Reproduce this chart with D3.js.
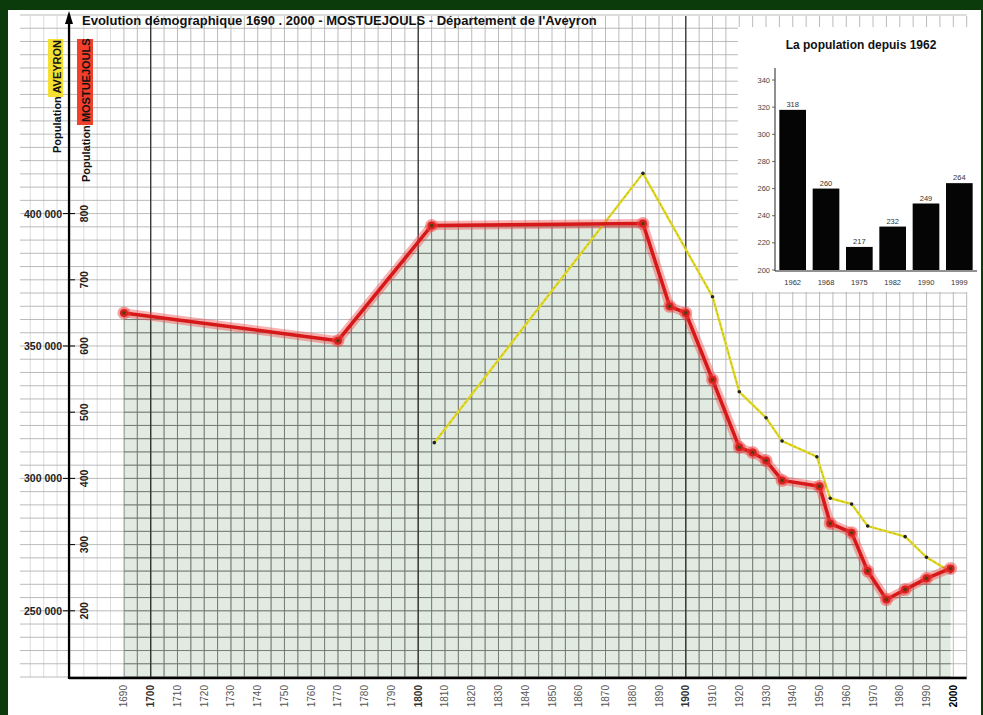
<!DOCTYPE html>
<html><head><meta charset="utf-8">
<script src="https://cdn.jsdelivr.net/npm/d3@7/dist/d3.min.js"></script>
<style>
html,body{margin:0;padding:0;background:#ffffff;}
svg{display:block;font-family:"Liberation Sans",Arial,sans-serif;}
</style></head>
<body>
<svg id="chart" width="983" height="715"></svg>
<script>
// ---- data ----
const titleText = "Evolution démographique 1690 . 2000 - MOSTUEJOULS - Département de l'Aveyron";
const mostYears = [1690, 1770, 1805, 1884, 1894, 1900, 1910, 1920, 1925, 1930, 1936, 1950, 1954, 1962, 1968, 1975, 1982, 1990, 1999];
const mostPop   = [650, 608, 782, 785, 660, 650, 549, 447, 439, 427, 397, 388, 332, 318, 260, 217, 232, 249, 264];
const avYears = [1806, 1884, 1910, 1920, 1930, 1936, 1949, 1954, 1962, 1968, 1982, 1990, 1999];
const avPop   = [313500, 415200, 368600, 332700, 322900, 314100, 308200, 292500, 290300, 282000, 278000, 270200, 264700];
const xTickYears = [1690,1700,1710,1720,1730,1740,1750,1760,1770,1780,1790,1800,1810,1820,1830,1840,1850,1860,1870,1880,1890,1900,1910,1920,1930,1940,1950,1960,1970,1980,1990,2000];
const avTicks = [250000, 300000, 350000, 400000];
const mostTicks = [200, 300, 400, 500, 600, 700, 800];
const insetYears = ["1962","1968","1975","1982","1990","1999"];
const insetPop = [318, 260, 217, 232, 249, 264];
const insetTicks = [200,220,240,260,280,300,320,340];

const svg = d3.select("#chart");
// frame
svg.append("rect").attr("x",0).attr("y",0).attr("width",983).attr("height",715).attr("fill","#0b3b0b");
svg.append("rect").attr("x",8).attr("y",10).attr("width",973).attr("height",720).attr("fill","#ffffff");

const x = d3.scaleLinear().domain([1700, 2000]).range([150.7, 953.3]);
const y = d3.scaleLinear().domain([100, 1100]).range([677, 15]);
const yA = d3.scaleLinear().domain([225000, 475000]).range([677, 15]);

const pts = mostYears.map((d,i)=>[d, mostPop[i]]);
const areaGen = d3.area().x(d=>x(d[0])).y0(y(100)).y1(d=>y(d[1]));

// clip for the filled area
svg.append("clipPath").attr("id","fillclip").append("path").datum(pts).attr("d", areaGen);

// fill under red line
svg.append("path").datum(pts).attr("d", areaGen).attr("fill","#e2ebe2");

// grid (light, everywhere)
const gx = d3.range(1655, 2006, 5);
const gy = d3.range(100, 1101, 20);
function drawGrid(g, col, w, leftOpacity){
  g.selectAll("line.v").data(gx).join("line").attr("class","v")
    .attr("x1",d=>x(d)).attr("x2",d=>x(d)).attr("y1",16).attr("y2",y(100))
    .attr("stroke",col).attr("stroke-width",w)
    .attr("opacity", d=> d<1690 ? leftOpacity : 1);
  g.selectAll("line.h").data(gy).join("line").attr("class","h")
    .attr("x1",20).attr("x2",x(2005)).attr("y1",d=>y(d)).attr("y2",d=>y(d))
    .attr("stroke",col).attr("stroke-width",w);
}
drawGrid(svg.append("g"), "#a9a9a9", 0.8, 0.5);
drawGrid(svg.append("g").attr("clip-path","url(#fillclip)"), "#6f756f", 0.9, 1);
// major century lines
svg.selectAll("line.maj").data([1700,1800,1900]).join("line")
  .attr("x1",d=>x(d)).attr("x2",d=>x(d)).attr("y1",16).attr("y2",y(100))
  .attr("stroke","#333").attr("stroke-width",1.3);

// inset white box
svg.append("rect").attr("x",738).attr("y",27).attr("width",243).attr("height",265).attr("fill","#fff");

// title
svg.append("text").attr("x",82).attr("y",25).attr("font-size",13).attr("font-weight","bold")
  .attr("fill","#111").text(titleText);

// axes
svg.append("line").attr("x1",69).attr("x2",x(2005)).attr("y1",678).attr("y2",678)
  .attr("stroke","#000").attr("stroke-width",2.5);
svg.append("line").attr("x1",69).attr("x2",69).attr("y1",20).attr("y2",679)
  .attr("stroke","#000").attr("stroke-width",2.2);
svg.append("path").attr("d","M69,11 L65,24 L73,24 Z").attr("fill","#000");

// x tick labels
const xl = svg.append("g");
xTickYears.forEach(yr=>{
  const major = (yr%100===0);
  xl.append("text")
    .attr("transform",`translate(${x(yr)+3.5},685) rotate(-90)`)
    .attr("text-anchor","end")
    .attr("font-size",10)
    .attr("font-weight", major ? "bold" : "normal")
    .attr("fill", yr===2000 ? "#000" : (major ? "#333" : "#555"))
    .text(yr);
});

// left labels (Aveyron)
avTicks.forEach(v=>{
  svg.append("text").attr("x",62).attr("y",yA(v)+4).attr("text-anchor","end")
    .attr("font-size",10.5).attr("font-weight","bold").attr("fill","#222")
    .text(d3.format(",")(v).replace(/,/g," "));
  svg.append("line").attr("x1",63).attr("x2",69).attr("y1",yA(v)).attr("y2",yA(v)).attr("stroke","#000").attr("stroke-width",1);
});
mostTicks.forEach(v=>{
  svg.append("text").attr("transform",`translate(88,${y(v)}) rotate(-90)`).attr("text-anchor","middle")
    .attr("font-size",10.5).attr("font-weight","bold").attr("fill","#222").text(v);
  svg.append("line").attr("x1",69).attr("x2",75).attr("y1",y(v)).attr("y2",y(v)).attr("stroke","#000").attr("stroke-width",1);
});

// rotated legend labels
svg.append("rect").attr("x",48).attr("y",39).attr("width",15).attr("height",58).attr("fill","#f3e033");
svg.append("text").attr("transform","translate(61,153) rotate(-90)").attr("font-size",11).attr("font-weight","bold").attr("fill","#111")
  .text("Population AVEYRON");
svg.append("rect").attr("x",77).attr("y",39).attr("width",16).attr("height",86).attr("fill","#f0402c");
svg.append("text").attr("transform","translate(90,182) rotate(-90)").attr("font-size",11).attr("font-weight","bold").attr("fill","#111")
  .text("Population MOSTUEJOULS");

// yellow Aveyron line
const avPts = avYears.map((d,i)=>[d, avPop[i]]);
const lineA = d3.line().x(d=>x(d[0])).y(d=>yA(d[1]));
svg.append("path").datum(avPts).attr("d", lineA)
  .attr("fill","none").attr("stroke","#e2d923").attr("stroke-width",2.4);
svg.append("path").datum(avPts).attr("d", lineA)
  .attr("fill","none").attr("stroke","#6b6a20").attr("stroke-width",0.6).attr("stroke-dasharray","2,3").attr("opacity",0.6);
svg.selectAll("circle.av").data(avPts).join("circle")
  .attr("cx",d=>x(d[0])).attr("cy",d=>yA(d[1])).attr("r",1.8).attr("fill","#222");

// red Mostuejouls line
const lineM = d3.line().x(d=>x(d[0])).y(d=>y(d[1]));
svg.append("path").datum(pts).attr("d",lineM).attr("fill","none")
  .attr("stroke","#f05050").attr("stroke-opacity",0.45).attr("stroke-width",9).attr("stroke-linejoin","round");
svg.append("path").datum(pts).attr("d",lineM).attr("fill","none")
  .attr("stroke","#d61818").attr("stroke-width",3.5).attr("stroke-linejoin","round");
svg.selectAll("circle.mg").data(pts).join("circle")
  .attr("cx",d=>x(d[0])).attr("cy",d=>y(d[1])).attr("r",6.5).attr("fill","#f04040").attr("opacity",0.5);
svg.selectAll("circle.mm").data(pts).join("circle")
  .attr("cx",d=>x(d[0])).attr("cy",d=>y(d[1])).attr("r",4).attr("fill","#dc2020");
svg.selectAll("circle.mc").data(pts).join("circle")
  .attr("cx",d=>x(d[0])).attr("cy",d=>y(d[1])).attr("r",1.8).attr("fill","#5a3a12");

// inset bar chart
const ix = d3.scaleBand().domain(insetYears).range([775, 977]).paddingInner(0.2).paddingOuter(0.13);
const iy = d3.scaleLinear().domain([200, 340]).range([270, 80]);
const inset = svg.append("g");
inset.append("text").attr("x",861).attr("y",49).attr("text-anchor","middle").attr("font-size",12)
  .attr("font-weight","bold").attr("fill","#111").text("La population depuis 1962");
inset.selectAll("rect.bar").data(insetPop).join("rect")
  .attr("x",(d,i)=>ix(insetYears[i])).attr("width",ix.bandwidth())
  .attr("y",d=>iy(d)).attr("height",d=>iy(200)-iy(d)).attr("fill","#050505");
inset.selectAll("text.val").data(insetPop).join("text")
  .attr("x",(d,i)=>ix(insetYears[i])+ix.bandwidth()/2).attr("y",d=>iy(d)-3)
  .attr("text-anchor","middle").attr("font-size",7.5).attr("fill","#333").text(d=>d);
inset.selectAll("text.cat").data(insetYears).join("text")
  .attr("x",d=>ix(d)+ix.bandwidth()/2).attr("y",285)
  .attr("text-anchor","middle").attr("font-size",7.5).attr("fill","#333").text(d=>d);
inset.append("line").attr("x1",775).attr("x2",775).attr("y1",68).attr("y2",271).attr("stroke","#222").attr("stroke-width",1);
inset.append("line").attr("x1",775).attr("x2",977).attr("y1",271).attr("y2",271).attr("stroke","#222").attr("stroke-width",1);
insetTicks.forEach(v=>{
  inset.append("text").attr("x",770).attr("y",iy(v)+2.5).attr("text-anchor","end")
    .attr("font-size",7.5).attr("fill","#444").text(v);
  inset.append("line").attr("x1",772).attr("x2",775).attr("y1",iy(v)).attr("y2",iy(v)).attr("stroke","#444").attr("stroke-width",0.8);
});
</script>
</body></html>
